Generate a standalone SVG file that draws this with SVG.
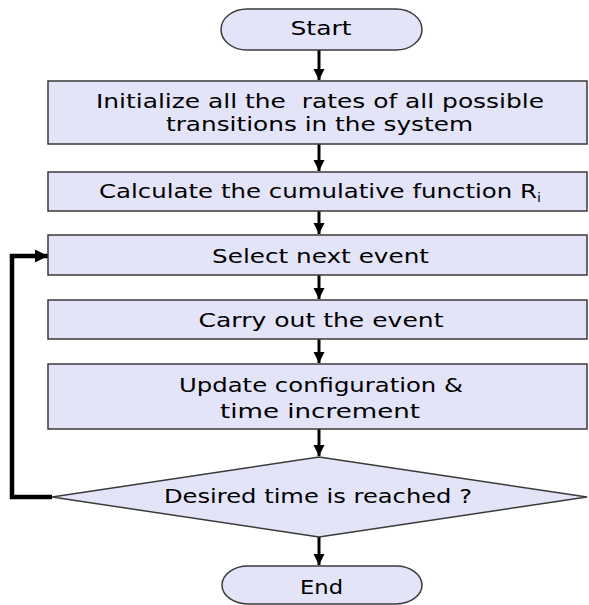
<svg xmlns="http://www.w3.org/2000/svg" width="589" height="605" viewBox="0 0 589 605">
  <style>
    .shape { fill: #e4e4f8; stroke: #3a3a3a; stroke-width: 1.5; }
    .label { font-family: "DejaVu Sans", Verdana, sans-serif; font-size: 19.5px; fill: #000; text-anchor: middle; }
    .sub { font-family: "DejaVu Sans", Verdana, sans-serif; font-size: 12px; fill: #000; }
    .flow { fill: none; stroke: #000; stroke-width: 3; }
    .loop { fill: none; stroke: #000; stroke-width: 4.5; }
  </style>
  <defs>
    <marker id="head" markerUnits="userSpaceOnUse" markerWidth="12" markerHeight="12" refX="11" refY="6" orient="auto">
      <path d="M0,0.5 L11,6 L0,11.5 Z" fill="#000"/>
    </marker>
    <marker id="loopHead" markerUnits="userSpaceOnUse" markerWidth="14" markerHeight="14" refX="13" refY="7" orient="auto">
      <path d="M0,0.5 L13,7 L0,13.5 Z" fill="#000"/>
    </marker>
  </defs>

  <rect width="589" height="605" fill="#ffffff"/>

  <g id="connectors">
    <path class="flow" d="M319,50 V80" marker-end="url(#head)"/>
    <path class="flow" d="M319,144 V171" marker-end="url(#head)"/>
    <path class="flow" d="M319,211 V234" marker-end="url(#head)"/>
    <path class="flow" d="M319,275 V299" marker-end="url(#head)"/>
    <path class="flow" d="M319,339 V363" marker-end="url(#head)"/>
    <path class="flow" d="M319,429 V456" marker-end="url(#head)"/>
    <path class="flow" d="M319,537 V565" marker-end="url(#head)"/>
    <path class="loop" d="M52,497 H12 V256 H48" marker-end="url(#loopHead)"/>
  </g>

  <g id="start">
    <rect class="shape" x="221" y="9" width="201" height="41" rx="26" ry="20.5"/>
    <text class="label" x="321" y="35" textLength="61" lengthAdjust="spacingAndGlyphs">Start</text>
  </g>

  <g id="init">
    <rect class="shape" x="48" y="81" width="539" height="63"/>
    <text class="label" x="320" y="108" textLength="448" lengthAdjust="spacingAndGlyphs" xml:space="preserve">Initialize all the  rates of all possible</text>
    <text class="label" x="319.5" y="131" textLength="307" lengthAdjust="spacingAndGlyphs">transitions in the system</text>
  </g>

  <g id="cumulative">
    <rect class="shape" x="48" y="172" width="539" height="39"/>
    <text class="label" x="318" y="198" textLength="438" lengthAdjust="spacingAndGlyphs">Calculate the cumulative function R</text>
    <text class="sub" x="537" y="202" textLength="4" lengthAdjust="spacingAndGlyphs">i</text>
  </g>

  <g id="select">
    <rect class="shape" x="48" y="235" width="539" height="40"/>
    <text class="label" x="320.5" y="263" textLength="217" lengthAdjust="spacingAndGlyphs">Select next event</text>
  </g>

  <g id="carry">
    <rect class="shape" x="48" y="300" width="539" height="39"/>
    <text class="label" x="321" y="327" textLength="245" lengthAdjust="spacingAndGlyphs">Carry out the event</text>
  </g>

  <g id="update">
    <rect class="shape" x="48" y="364" width="539" height="65"/>
    <text class="label" x="321" y="392" textLength="284" lengthAdjust="spacingAndGlyphs">Update configuration &amp;</text>
    <text class="label" x="320" y="418" textLength="200" lengthAdjust="spacingAndGlyphs">time increment</text>
  </g>

  <g id="decision">
    <polygon class="shape" points="319,457 587,497 319,537 52,497"/>
    <text class="label" x="318" y="503" textLength="308" lengthAdjust="spacingAndGlyphs">Desired time is reached ?</text>
  </g>

  <g id="end">
    <rect class="shape" x="222" y="566" width="200" height="38" rx="26" ry="19"/>
    <text class="label" x="321.5" y="594" textLength="43" lengthAdjust="spacingAndGlyphs">End</text>
  </g>
</svg>
